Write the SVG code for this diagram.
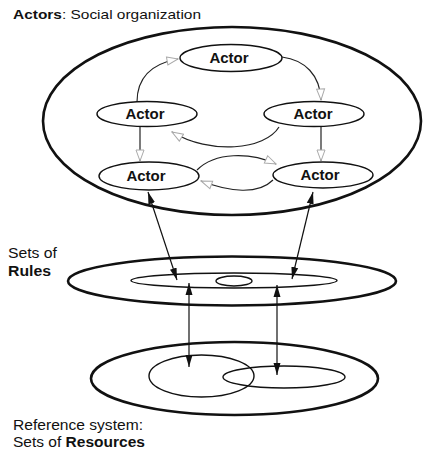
<svg xmlns="http://www.w3.org/2000/svg" width="423" height="451" viewBox="0 0 423 451">
<defs>
<style>
.txt{font-family:"Liberation Sans",Arial,sans-serif;fill:#111}
.b{font-weight:bold}
.outer{fill:none;stroke:#111;stroke-width:2.6}
.actor{fill:#fff;stroke:#111;stroke-width:1.4}
.inner{fill:none;stroke:#111;stroke-width:1.4}
.flow{fill:none;stroke:#222;stroke-width:1.2}
.link{fill:none;stroke:#111;stroke-width:1.2}
</style>
<marker id="ga" viewBox="0 0 13 10" refX="12" refY="5" markerWidth="13" markerHeight="10" markerUnits="userSpaceOnUse" orient="auto">
<polygon points="1,1 12,5 1,9" fill="#fff" stroke="#aaa" stroke-width="1"/>
</marker>
<marker id="ba" viewBox="0 0 12 8" refX="12" refY="4" markerWidth="12" markerHeight="8" markerUnits="userSpaceOnUse" orient="auto-start-reverse">
<polygon points="0,0.5 12,4 0,7.5" fill="#111"/>
</marker>
</defs>
<rect width="423" height="451" fill="#fff"/>
<text class="txt" x="13" y="19" font-size="13" textLength="188" lengthAdjust="spacingAndGlyphs"><tspan class="b">Actors</tspan>: Social organization</text>
<g id="social">
<ellipse class="outer" cx="232" cy="121" rx="189" ry="94"/>
</g>
<g id="connectors">
<path class="flow" d="M137,102 C137,78 150,64 178,59" marker-end="url(#ga)"/>
<path class="flow" d="M282,57 C305,60 320,75 321,100" marker-end="url(#ga)"/>
<path class="flow" d="M140,127 L140,161" marker-end="url(#ga)"/>
<path class="flow" d="M321,127 L321,161" marker-end="url(#ga)"/>
<path class="flow" d="M279,127 C265,150 210,155 172,132" marker-end="url(#ga)"/>
<path class="flow" d="M197,170 C215,152 250,152 276,164" marker-end="url(#ga)"/>
<path class="flow" d="M273,180 C258,195 230,192 201,181" marker-end="url(#ga)"/>
<path class="link" d="M148,192 L177,280" marker-start="url(#ba)" marker-end="url(#ba)"/>
<path class="link" d="M313,192 L292,279" marker-start="url(#ba)" marker-end="url(#ba)"/>
<path class="link" d="M189,283 L189,367" marker-start="url(#ba)" marker-end="url(#ba)"/>
<path class="link" d="M277,285 L277,375" marker-start="url(#ba)" marker-end="url(#ba)"/>
</g>
<g id="actor-top">
<ellipse class="actor" cx="231" cy="58" rx="51" ry="13.5"/>
<text class="txt b" x="229" y="63" font-size="15" text-anchor="middle">Actor</text>
</g>
<g id="actor-left">
<ellipse class="actor" cx="147" cy="114" rx="50" ry="12.5"/>
<text class="txt b" x="145" y="119" font-size="15" text-anchor="middle">Actor</text>
</g>
<g id="actor-right">
<ellipse class="actor" cx="314" cy="114" rx="50" ry="12.5"/>
<text class="txt b" x="313" y="119" font-size="15" text-anchor="middle">Actor</text>
</g>
<g id="actor-bottom-left">
<ellipse class="actor" cx="149" cy="176" rx="50" ry="14"/>
<text class="txt b" x="146" y="181" font-size="15" text-anchor="middle">Actor</text>
</g>
<g id="actor-bottom-right">
<ellipse class="actor" cx="323" cy="175" rx="50" ry="13"/>
<text class="txt b" x="320" y="180" font-size="15" text-anchor="middle">Actor</text>
</g>
<g id="rules">
<ellipse class="outer" cx="232" cy="281" rx="164" ry="24.5"/>
<ellipse class="inner" cx="234" cy="280.5" rx="103" ry="7.5"/>
<ellipse class="inner" cx="234" cy="281" rx="18" ry="5"/>
<text class="txt" x="8" y="258" font-size="14" textLength="49" lengthAdjust="spacingAndGlyphs">Sets of</text>
<text class="txt b" x="8" y="276" font-size="14" textLength="43" lengthAdjust="spacingAndGlyphs">Rules</text>
</g>
<g id="resources">
<ellipse class="outer" cx="234.5" cy="378.5" rx="143.5" ry="36.5"/>
<ellipse class="inner" cx="201.5" cy="376" rx="52.5" ry="21"/>
<ellipse class="inner" cx="284" cy="377" rx="61" ry="11"/>
<text class="txt" x="13" y="430" font-size="14" textLength="130" lengthAdjust="spacingAndGlyphs">Reference system:</text>
<text class="txt" x="13" y="447" font-size="14" textLength="132" lengthAdjust="spacingAndGlyphs">Sets of <tspan class="b">Resources</tspan></text>
</g>
</svg>
